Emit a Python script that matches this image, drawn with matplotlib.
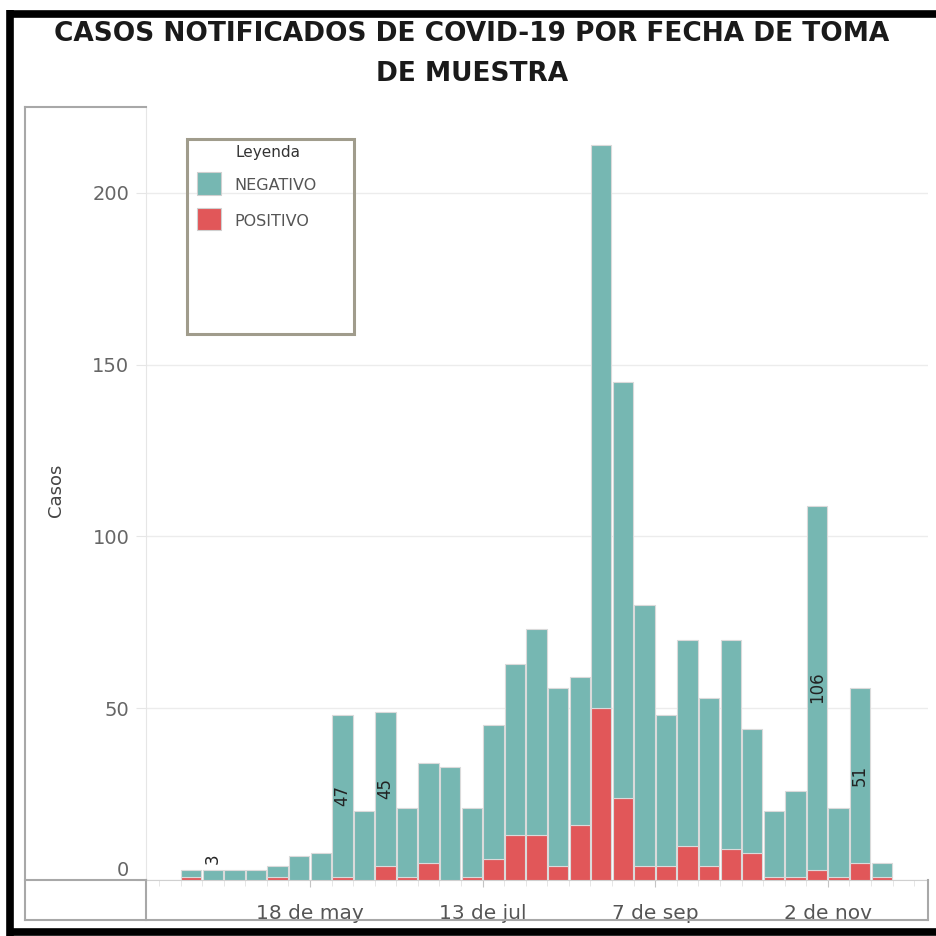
import pandas as pd
import matplotlib.pyplot as plt
import matplotlib.dates as mdates
from matplotlib.lines import Line2D
from matplotlib.patches import Rectangle

# weekly counts, week start dates (Tableau weekly bins)
week_start = pd.date_range("2020-04-06", periods=33, freq="7D")
negativo = [2, 3, 3, 3, 3, 7, 8, 47, 20, 45, 20, 29, 33, 20, 39, 50, 60,
            52, 43, 164, 121, 76, 44, 60, 49, 61, 36, 19, 25, 106, 20, 51, 4]
positivo = [1, 0, 0, 0, 1, 0, 0, 1, 0, 4, 1, 5, 0, 1, 6, 13, 13,
            4, 16, 50, 24, 4, 4, 10, 4, 9, 8, 1, 1, 3, 1, 5, 1]
labeled_weeks = [1, 7, 9, 29, 31]

tick_dates = pd.to_datetime(["2020-05-18", "2020-07-13", "2020-09-07", "2020-11-02"])
tick_labels = ["18 de may", "13 de jul", "7 de sep", "2 de nov"]
y_ticks = [0, 50, 100, 150, 200]

teal = "#76b7b2"
red = "#e15759"
W, H = 937, 936


def fx(x):
    return x / W


def fy(y):
    return 1 - y / H


fig = plt.figure(figsize=(W / 100, H / 100), dpi=100)
ax = fig.add_axes([fx(146), fy(880), fx(928) - fx(146), fy(107) - fy(880)])

x0 = mdates.date2num(week_start[0])
xs = mdates.date2num(week_start) + 0.2
pos = pd.Series(positivo)
neg = pd.Series(negativo)
mask = pos > 0
ax.bar(xs[mask], pos[mask], width=6.6, align="edge", color=red,
       edgecolor="#dadada", linewidth=0.8, zorder=3)
ax.bar(xs, neg, bottom=pos, width=6.6, align="edge", color=teal,
       edgecolor="#dadada", linewidth=0.8, zorder=3)

for i in labeled_weeks:
    xc = xs[i] + 3.3
    if negativo[i] < 10:
        ax.annotate(str(negativo[i]), (xc, positivo[i] + negativo[i]), xytext=(0, 4),
                    textcoords="offset points", rotation=90, ha="center", va="bottom",
                    fontsize=12, color="#222222")
    else:
        ax.text(xc, positivo[i] + negativo[i] / 2, str(negativo[i]), rotation=90,
                ha="center", va="center", fontsize=12, color="#222222", zorder=4)

ax.set_xlim(x0 - 11.2, x0 + 242.5)
ax.set_ylim(0, 225)

ax.set_xticks(mdates.date2num(tick_dates))
ax.set_xticklabels(tick_labels, fontsize=14.5, color="#555555")
ax.set_xticks(mdates.date2num(pd.date_range("2020-03-30", "2020-11-30", freq="7D")), minor=True)
ax.tick_params(axis="x", which="major", length=5, color="#c4c4c4", pad=12)
ax.tick_params(axis="x", which="minor", length=4, color="#e2e2e2")

ax.set_yticks(y_ticks)
ax.set_yticklabels([str(v) for v in y_ticks], fontsize=14, color="#666666")
ax.tick_params(axis="y", length=7, color="#e6e6e6", pad=5)
ax.yaxis.get_major_ticks()[0].label1.set_verticalalignment("bottom")
ax.grid(axis="y", color="#ececec", linewidth=1, zorder=0)

for s in ["top", "right"]:
    ax.spines[s].set_visible(False)
ax.spines["left"].set_color("#e6e6e6")
ax.spines["bottom"].set_color("#d0d0d0")

# pane borders
grey = "#a8a8a8"
for xa, ya, xb, yb, c, lw in [
    (25, 107, 146, 107, grey, 1.5),
    (25, 107, 25, 920, grey, 1.5),
    (25, 880, 146, 880, grey, 1.5),
    (146, 880, 146, 920, grey, 1.5),
    (25, 920, 928, 920, grey, 1.5),
    (928, 880, 928, 920, grey, 1.5),
]:
    fig.add_artist(Line2D([fx(xa), fx(xb)], [fy(ya), fy(yb)], color=c, lw=lw,
                          transform=fig.transFigure))

# black frame
for xa, ya, xb, yb in [(7, 14, 937, 14), (10.5, 10, 10.5, 936), (7, 932, 937, 932)]:
    fig.add_artist(Line2D([fx(xa), fx(xb)], [fy(ya), fy(yb)], color="black", lw=5.5,
                          transform=fig.transFigure, solid_capstyle="butt"))

fig.text(fx(472), fy(41), "CASOS NOTIFICADOS DE COVID-19 POR FECHA DE TOMA",
         ha="center", va="baseline", fontsize=19, fontweight="bold", color="#1a1a1a")
fig.text(fx(472), fy(81), "DE MUESTRA", ha="center", va="baseline",
         fontsize=19, fontweight="bold", color="#1a1a1a")
fig.text(fx(56), fy(490), "Casos", rotation=90, ha="center", va="center",
         fontsize=13, color="#444444")

# legend box
fig.add_artist(Rectangle((fx(187), fy(334)), fx(354) - fx(187), fy(139) - fy(334),
                         transform=fig.transFigure, fill=False, edgecolor="#a09c8c", lw=2.2))
fig.add_artist(Rectangle((fx(197), fy(195)), fx(221) - fx(197), fy(172) - fy(195),
                         transform=fig.transFigure, facecolor=teal, edgecolor="#d0d0d0", lw=0.8))
fig.add_artist(Rectangle((fx(197), fy(230)), fx(221) - fx(197), fy(208) - fy(230),
                         transform=fig.transFigure, facecolor=red, edgecolor="#d0d0d0", lw=0.8))
fig.text(fx(236), fy(153), "Leyenda", ha="left", va="center", fontsize=11, color="#333333")
fig.text(fx(234), fy(186), "NEGATIVO", ha="left", va="center", fontsize=11.5, color="#555555")
fig.text(fx(234), fy(222), "POSITIVO", ha="left", va="center", fontsize=11.5, color="#555555")

fig.savefig("out.png", dpi=100, facecolor="white")
